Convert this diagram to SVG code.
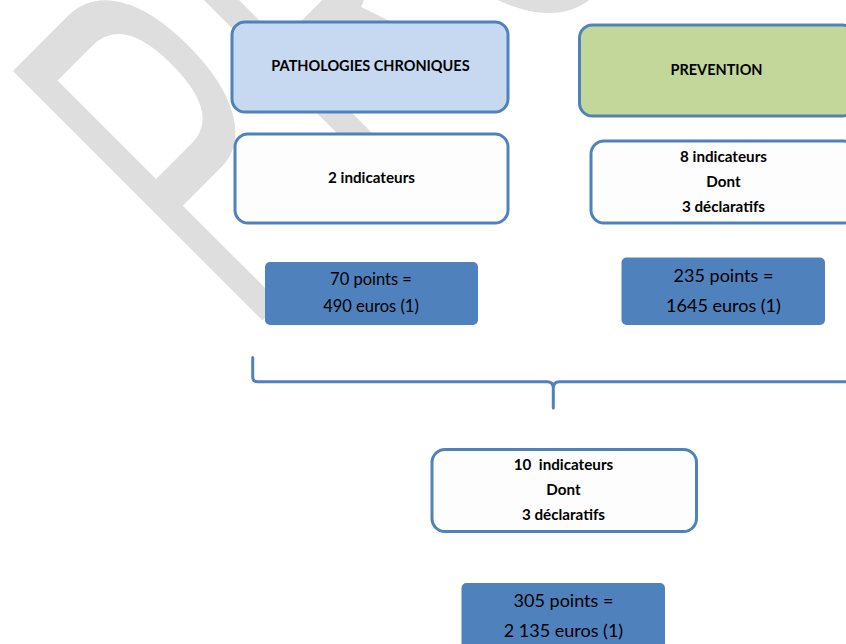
<svg xmlns="http://www.w3.org/2000/svg" width="846" height="644" viewBox="0 0 846 644">
<style>
.box{stroke:#4f81bd;stroke-width:3}
.pts{fill:#4f81bd}
.lbl{font-family:Lato,"Liberation Sans",sans-serif;font-weight:700;font-size:15.2px;fill:#000;text-anchor:middle}
.cap{font-size:14.5px}
.val{font-family:Lato,"Liberation Sans",sans-serif;font-weight:400;fill:#000;text-anchor:middle}
.wm{font-family:"Liberation Sans",Arial,sans-serif;font-size:513px;letter-spacing:14px;fill:#dedede}
.conn{fill:none;stroke:#4f81bd;stroke-width:3;stroke-linecap:round}
</style>
<rect width="846" height="644" fill="#fff"/>
<text class="wm" transform="translate(247,336) rotate(-45) scale(0.52,1)">PROJET</text>

<g id="pathologies">
<rect class="box" x="232" y="22" width="276" height="90" rx="13" fill="#c6d9f1"/>
<text class="lbl cap" x="370.5" y="71">PATHOLOGIES CHRONIQUES</text>
</g>
<g id="pathologies-indicateurs">
<rect class="box" x="235" y="134" width="273" height="89" rx="13" fill="#fdfdfd"/>
<text class="lbl" x="371.5" y="183">2 indicateurs</text>
</g>
<g id="pathologies-points">
<rect class="pts" x="265" y="262" width="213" height="63" rx="5"/>
<text class="val" x="371" y="285" font-size="16.5">70 points =</text>
<text class="val" x="371" y="311.5" font-size="16.5">490 euros (1)</text>
</g>

<g id="prevention">
<rect class="box" x="579.5" y="25" width="276" height="91" rx="13" fill="#c4d79b"/>
<text class="lbl cap" x="716.5" y="75">PREVENTION</text>
</g>
<g id="prevention-indicateurs">
<rect class="box" x="591" y="141" width="265" height="82" rx="13" fill="#fdfdfd"/>
<text class="lbl" x="723.5" y="161.5">8 indicateurs</text>
<text class="lbl" x="723.5" y="186.5">Dont</text>
<text class="lbl" x="723.5" y="211.5">3 déclaratifs</text>
</g>
<g id="prevention-points">
<rect class="pts" x="621.5" y="257.5" width="203.5" height="67.5" rx="5"/>
<text class="val" x="723.5" y="281.5" font-size="18">235 points =</text>
<text class="val" x="723.5" y="311.5" font-size="18">1645 euros (1)</text>
</g>

<g id="connectors">
<path class="conn" d="M252.7,357.5 V377 Q252.7,381.7 257.5,381.7 H547 Q553.3,381.7 553.3,388 V408 M553.3,388 Q553.3,381.7 559.5,381.7 H850"/>
</g>

<g id="total-indicateurs">
<rect class="box" x="432" y="449.5" width="264.5" height="82" rx="13" fill="#fdfdfd"/>
<text class="lbl" x="563.5" y="470" xml:space="preserve" style="white-space:pre">10  indicateurs</text>
<text class="lbl" x="563.5" y="495">Dont</text>
<text class="lbl" x="563.5" y="520">3 déclaratifs</text>
</g>
<g id="total-points">
<rect class="pts" x="461.5" y="583" width="203.5" height="70" rx="5"/>
<text class="val" x="563.5" y="607" font-size="18">305 points =</text>
<text class="val" x="563.5" y="637" font-size="18">2 135 euros (1)</text>
</g>
</svg>
